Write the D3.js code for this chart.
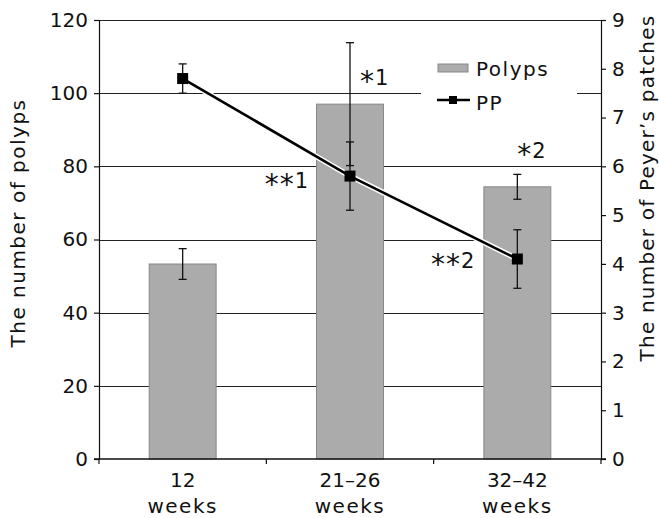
<!DOCTYPE html>
<html><head><meta charset="utf-8">
<script src="https://cdn.jsdelivr.net/npm/d3@7"></script>
<style>
html,body{margin:0;padding:0;background:#fff;}
svg{display:block;font-family:"DejaVu Sans",Verdana,sans-serif;}
.w{letter-spacing:1.5px;}
.r{letter-spacing:1.2px;}
</style></head>
<body><svg id="c" width="659" height="518"></svg>
<script>
const categories = ["12 weeks", "21–26 weeks", "32–42 weeks"];
const catLine1 = ["12", "21–26", "32–42"];
const catLine2 = ["weeks", "weeks", "weeks"];
const polyps = [53.3, 97, 74.4];
const polypsErr = [4.2, 16.8, 3.4];
const pp = [7.8, 5.8, 4.1];
const ppErr = [0.3, 0.7, 0.6];
const leftTicks = [0, 20, 40, 60, 80, 100, 120];
const rightTicks = [0, 1, 2, 3, 4, 5, 6, 7, 8, 9];
const notes = ["*1", "**1", "*2", "**2"];
const leftTitle = "The number of polyps";
const rightTitle = "The number of Peyer’s patches";
const legendLabels = ["Polyps", "PP"];

const W = 659, H = 518;
const m = {l: 99, r: 58, t: 20, b: 59};
const svg = d3.select("#c");
const ink = "#111";

const x = d3.scaleBand().domain(categories).range([m.l, W - m.r]).paddingInner(0.6).paddingOuter(0.3);
const yL = d3.scaleLinear().domain([0, 120]).range([H - m.b, m.t]);
const yR = d3.scaleLinear().domain([0, 9]).range([H - m.b, m.t]);

// gridlines
svg.append("g").selectAll("line").data(leftTicks.slice(1)).join("line")
  .attr("x1", m.l).attr("x2", W - m.r)
  .attr("y1", d => Math.round(yL(d)) + 0.5).attr("y2", d => Math.round(yL(d)) + 0.5)
  .attr("stroke", "#222").attr("stroke-width", 1.2);

// bars
svg.append("g").selectAll("rect").data(polyps).join("rect")
  .attr("x", (d, i) => x(categories[i]))
  .attr("width", x.bandwidth())
  .attr("y", d => yL(d))
  .attr("height", d => yL(0) - yL(d))
  .attr("fill", "#ababab").attr("stroke", "#888").attr("stroke-width", 1);

// polyps error bars
const cx = i => x(categories[i]) + x.bandwidth() / 2;
const eb = svg.append("g").attr("stroke", ink).attr("stroke-width", 1.3);
polyps.forEach((v, i) => {
  const a = yL(v + polypsErr[i]), b = yL(v - polypsErr[i]), c = cx(i);
  eb.append("line").attr("x1", c).attr("x2", c).attr("y1", a).attr("y2", b);
  eb.append("line").attr("x1", c - 4).attr("x2", c + 4).attr("y1", a).attr("y2", a);
  eb.append("line").attr("x1", c - 4).attr("x2", c + 4).attr("y1", b).attr("y2", b);
});

// axes
const axL = svg.append("g").attr("transform", `translate(${m.l},0)`)
  .call(d3.axisLeft(yL).tickValues(leftTicks).tickSize(5).tickSizeOuter(0).tickPadding(6));
const axR = svg.append("g").attr("transform", `translate(${W - m.r},0)`)
  .call(d3.axisRight(yR).tickValues(rightTicks).tickSize(5).tickSizeOuter(0).tickPadding(6));
[axL, axR].forEach(g => {
  g.selectAll("path,line").attr("stroke", ink).attr("stroke-width", 1.2);
  g.selectAll("text").attr("font-size", 20).attr("fill", ink)
    .attr("font-family", "'DejaVu Sans',Verdana,sans-serif");
});

// x axis
const xa = svg.append("g");
xa.append("line").attr("x1", m.l - 5).attr("x2", W - m.r + 5)
  .attr("y1", yL(0)).attr("y2", yL(0)).attr("stroke", ink).attr("stroke-width", 1.3);
const bounds = categories.map(c => x(c) - x.step() * x.paddingInner() / 2).concat([W - m.r]);
bounds[0] = m.l;
xa.selectAll(".tk").data(bounds).join("line")
  .attr("x1", d => d).attr("x2", d => d)
  .attr("y1", yL(0)).attr("y2", yL(0) + 5).attr("stroke", ink).attr("stroke-width", 1.2);
const xl = xa.selectAll(".xl").data(categories).join("text")
  .attr("text-anchor", "middle").attr("font-size", 20).attr("fill", ink);
xl.append("tspan").attr("x", (d, i) => cx(i)).attr("y", 487).text((d, i) => catLine1[i]);
xl.append("tspan").attr("class", "w").attr("x", (d, i) => cx(i)).attr("y", 513).text((d, i) => catLine2[i]);

// PP line
const line = d3.line().x((d, i) => cx(i)).y(d => yR(d));
svg.append("path").datum(pp).attr("d", line).attr("fill", "none")
  .attr("stroke", "#fff").attr("stroke-width", 5.5);
svg.append("path").datum(pp).attr("d", line).attr("fill", "none")
  .attr("stroke", "#000").attr("stroke-width", 2.6);
const pe = svg.append("g").attr("stroke", ink).attr("stroke-width", 1.3);
pp.forEach((v, i) => {
  const a = yR(v + ppErr[i]), b = yR(v - ppErr[i]), c = cx(i);
  pe.append("line").attr("x1", c).attr("x2", c).attr("y1", a).attr("y2", b);
  pe.append("line").attr("x1", c - 4).attr("x2", c + 4).attr("y1", a).attr("y2", a);
  pe.append("line").attr("x1", c - 4).attr("x2", c + 4).attr("y1", b).attr("y2", b);
});
svg.append("g").selectAll("rect").data(pp).join("rect")
  .attr("x", (d, i) => cx(i) - 5.5).attr("y", d => yR(d) - 5.5)
  .attr("width", 11).attr("height", 11).attr("fill", "#000");

// annotations (asterisks drawn larger, like the reference)
const ann = svg.append("g").attr("font-size", 21).attr("fill", ink);
function note(t, xp, yp, anchor) {
  const el = ann.append("text").attr("x", xp).attr("y", yp).attr("text-anchor", anchor);
  t.split("").forEach(ch => {
    const s = el.append("tspan").text(ch);
    if (ch === "*") s.attr("font-size", 28).attr("baseline-shift", "-6").attr("dx", 1);
    else s.attr("dx", 1);
  });
}
note(notes[0], cx(1) + 9, yL(polyps[1]) - 19, "start");
note(notes[1], cx(1) - 43, yR(pp[1]) + 12, "end");
note(notes[2], cx(2) - 1, yL(polyps[2] + polypsErr[2]) - 16, "start");
note(notes[3], cx(2) - 44, yR(pp[2]) + 9, "end");

// axis titles
svg.append("text").attr("class", "w").attr("transform", `translate(25,${223}) rotate(-90)`)
  .attr("text-anchor", "middle").attr("font-size", 20).attr("fill", ink).text(leftTitle);
svg.append("text").attr("class", "r").attr("transform", `translate(654,${188}) rotate(-90)`)
  .attr("text-anchor", "middle").attr("font-size", 20).attr("fill", ink).text(rightTitle);

// legend
const lg = svg.append("g");
lg.append("rect").attr("x", 421).attr("y", 52).attr("width", 156).attr("height", 66).attr("fill", "#fff");
lg.append("rect").attr("x", 438).attr("y", 64).attr("width", 30).attr("height", 8)
  .attr("fill", "#ababab").attr("stroke", "#888");
lg.append("line").attr("x1", 437).attr("x2", 470).attr("y1", 100).attr("y2", 100)
  .attr("stroke", "#000").attr("stroke-width", 2.6);
lg.append("rect").attr("x", 449).attr("y", 96).attr("width", 8).attr("height", 8).attr("fill", "#000");
lg.selectAll(".lt").data(legendLabels).join("text").attr("class", "w")
  .attr("x", 476).attr("y", (d, i) => i === 0 ? 76 : 110)
  .attr("font-size", 20).attr("fill", ink).text(d => d);
</script></body></html>
